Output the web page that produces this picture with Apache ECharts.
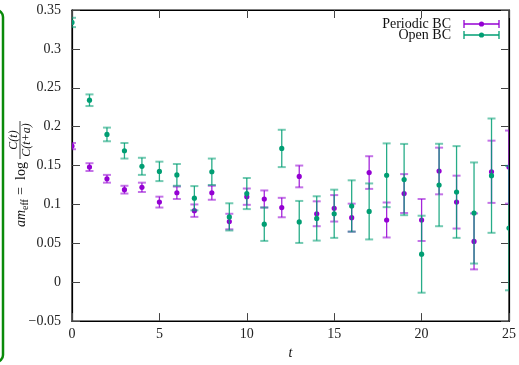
<!DOCTYPE html>
<html>
<head>
<meta charset="utf-8">
<script src="https://cdn.jsdelivr.net/npm/echarts@6/dist/echarts.min.js"></script>
<style>
  html, body { margin: 0; padding: 0; background: #fff; }
  #chart { width: 519px; height: 365px; }
</style>
</head>
<body>
<div id="chart"></div>
<script>
// t values and effective mass estimates (value, error) per boundary condition
const tValues = [0, 1, 2, 3, 4, 5, 6, 7, 8, 9, 10, 11, 12, 13, 14, 15, 16, 17, 18, 19, 20, 21, 22, 23, 24, 25];
const periodicY = [0.175, 0.148, 0.133, 0.119, 0.122, 0.103, 0.115, 0.092, 0.115, 0.078, 0.110, 0.107, 0.096,
  0.136, 0.088, 0.095, 0.083, 0.141, 0.080, 0.114, 0.080, 0.143, 0.103, 0.0525, 0.142, 0.148];
const periodicErr = [0.004, 0.005, 0.005, 0.005, 0.006, 0.007, 0.008, 0.008, 0.009, 0.010, 0.0105, 0.011, 0.0125,
  0.014, 0.016, 0.017, 0.018, 0.021, 0.0225, 0.025, 0.027, 0.030, 0.034, 0.036, 0.040, 0.047];
const openY = [0.334, 0.234, 0.190, 0.169, 0.149, 0.1425, 0.138, 0.108, 0.142, 0.084, 0.114, 0.0746, 0.172,
  0.0775, 0.082, 0.088, 0.098, 0.091, 0.1375, 0.132, 0.036, 0.125, 0.116, 0.089, 0.137, 0.0696];
const openErr = [0.006, 0.0075, 0.0088, 0.010, 0.011, 0.0125, 0.014, 0.0156, 0.017, 0.0175, 0.020, 0.0215, 0.024,
  0.027, 0.0285, 0.031, 0.033, 0.036, 0.041, 0.0458, 0.0495, 0.053, 0.059, 0.065, 0.0735, 0.080];
const seriesNames = ['Periodic BC', 'Open BC'];

const PURPLE = '#9400d3';
const GREEN = '#009e73';
const SERIF = '"Liberation Serif", "DejaVu Serif", serif';

const chart = echarts.init(document.getElementById('chart'));

function errBars(color) {
  return function (params, api) {
    const x = api.value(0), y = api.value(1), e = api.value(2);
    const c = api.coord([x, y]);
    const hi = api.coord([x, y + e]);
    const lo = api.coord([x, y - e]);
    const w = 4;
    return {
      type: 'group',
      children: [
        {type: 'line', shape: {x1: c[0], y1: hi[1], x2: c[0], y2: lo[1]}, style: {stroke: color, lineWidth: 1.3, opacity: 0.85}},
        {type: 'line', shape: {x1: c[0] - w, y1: hi[1], x2: c[0] + w, y2: hi[1]}, style: {stroke: color, lineWidth: 2, opacity: 0.55}},
        {type: 'line', shape: {x1: c[0] - w, y1: lo[1], x2: c[0] + w, y2: lo[1]}, style: {stroke: color, lineWidth: 2, opacity: 0.55}},
        {type: 'circle', shape: {cx: c[0], cy: c[1], r: 2.6}, style: {fill: color}}
      ]
    };
  };
}

function legendItem(label, color, y) {
  return [
    {type: 'text', style: {text: label, x: 451, y: y, font: '14px ' + SERIF, fill: '#111', textAlign: 'right', textVerticalAlign: 'middle'}},
    {type: 'line', shape: {x1: 464, y1: y, x2: 499, y2: y}, style: {stroke: color, lineWidth: 1.3}},
    {type: 'line', shape: {x1: 464, y1: y - 4, x2: 464, y2: y + 4}, style: {stroke: color, lineWidth: 1.3}},
    {type: 'line', shape: {x1: 499, y1: y - 4, x2: 499, y2: y + 4}, style: {stroke: color, lineWidth: 1.3}},
    {type: 'circle', shape: {cx: 481.5, cy: y, r: 2.6}, style: {fill: color}}
  ];
}

const axisFont = {fontFamily: SERIF, fontSize: 14, color: '#222'};
const tickStyle = {show: true, inside: true, length: 8, lineStyle: {color: '#444', width: 1}};
const frameLine = {show: true, onZero: false, lineStyle: {color: '#000', width: 1.2}};

chart.setOption({
  animation: false,
  grid: {left: 72, right: 7, top: 10, bottom: 35, show: true, borderColor: '#000', borderWidth: 1.2},
  xAxis: [
    {type: 'value', min: 0, max: 25, interval: 5, position: 'bottom',
      name: 't', nameLocation: 'middle', nameGap: 22,
      nameTextStyle: {fontFamily: SERIF, fontSize: 14, fontStyle: 'italic', color: '#111'},
      axisLine: frameLine, axisTick: tickStyle,
      axisLabel: Object.assign({margin: 6}, axisFont), splitLine: {show: false}},
    {type: 'value', min: 0, max: 25, interval: 5, position: 'top',
      axisLine: frameLine, axisTick: tickStyle,
      axisLabel: {show: false}, splitLine: {show: false}}
  ],
  yAxis: [
    {type: 'value', min: -0.05, max: 0.35, interval: 0.05, position: 'left',
      axisLine: frameLine, axisTick: tickStyle,
      axisLabel: Object.assign({margin: 11, formatter: function (v) {
        return String(parseFloat(v.toFixed(2))).replace('-', '\u2212');
      }}, axisFont),
      splitLine: {show: false}},
    {type: 'value', min: -0.05, max: 0.35, interval: 0.05, position: 'right',
      axisLine: frameLine, axisTick: tickStyle,
      axisLabel: {show: false}, splitLine: {show: false}}
  ],
  series: [
    {name: seriesNames[0], type: 'custom', clip: true, renderItem: errBars(PURPLE), encode: {x: 0, y: 1},
      data: tValues.map((t, i) => [t, periodicY[i], periodicErr[i]])},
    {name: seriesNames[1], type: 'custom', clip: true, renderItem: errBars(GREEN), encode: {x: 0, y: 1},
      data: tValues.map((t, i) => [t, openY[i], openErr[i]])}
  ],
  graphic: [
    {type: 'rect', shape: {x: -20, y: 10, width: 23, height: 352, r: 7}, style: {fill: 'none', stroke: '#0a8a0a', lineWidth: 2.5}},
    {type: 'group', x: 21, y: 227, rotation: Math.PI / 2, children: [
      {type: 'text', style: {text: 'am', x: 0, y: 0, font: 'italic 14px ' + SERIF, fill: '#111', textVerticalAlign: 'middle'}},
      {type: 'text', style: {text: 'eff', x: 17, y: 4, font: '10px ' + SERIF, fill: '#111', textVerticalAlign: 'middle'}},
      {type: 'text', style: {text: '=', x: 32, y: 0, font: '14px ' + SERIF, fill: '#111', textVerticalAlign: 'middle'}},
      {type: 'text', style: {text: 'log', x: 47, y: 0, font: '14px ' + SERIF, fill: '#111', textVerticalAlign: 'middle'}},
      {type: 'text', style: {text: 'C(t)', x: 87, y: -7, font: 'italic 12px ' + SERIF, fill: '#111', textAlign: 'center', textVerticalAlign: 'middle'}},
      {type: 'line', shape: {x1: 68, y1: -1, x2: 106, y2: -1}, style: {stroke: '#111', lineWidth: 0.8}},
      {type: 'text', style: {text: 'C(t+a)', x: 87, y: 5.5, font: 'italic 12px ' + SERIF, fill: '#111', textAlign: 'center', textVerticalAlign: 'middle'}}
    ]}
  ].concat(legendItem(seriesNames[0], PURPLE, 24), legendItem(seriesNames[1], GREEN, 35))
});
</script>
</body>
</html>
